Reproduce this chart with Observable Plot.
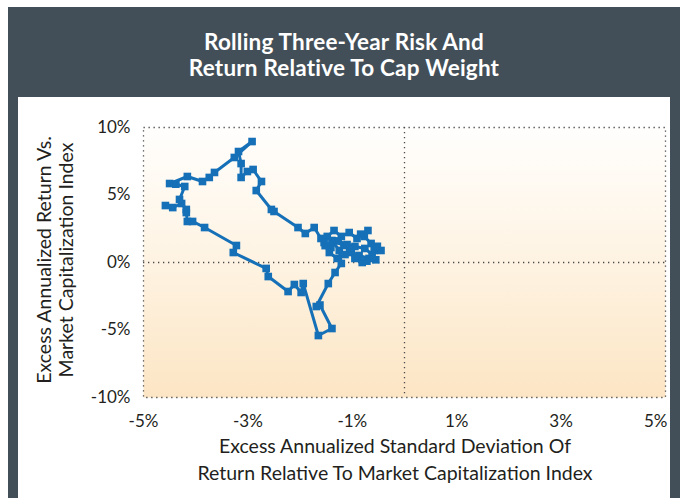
<!DOCTYPE html>
<html>
<head>
<meta charset="utf-8">
<script src="https://cdn.jsdelivr.net/npm/d3@7"></script>
<script src="https://cdn.jsdelivr.net/npm/@observablehq/plot@0.6"></script>
<style>
  html, body { margin: 0; padding: 0; background: #ffffff; }
  #wrap { position: relative; width: 687px; height: 498px; overflow: hidden; }
  #border { position: absolute; left: 8px; top: 7px; width: 672px; height: 520px; background: #434f58; }
  #title { position: absolute; left: 8px; top: 7px; width: 672px; padding-top: 22px; text-align: center;
           color: #ffffff; font-family: Lato, sans-serif; font-weight: 700; font-size: 22.5px; line-height: 26px; letter-spacing: 0.2px; }
  #panel { position: absolute; left: 18px; top: 97px; width: 652px; height: 420px; background: #ffffff; }
  #panel svg { display: block; }
  .axtitle { position: absolute; color: #231f20; font-family: Lato, sans-serif; font-size: 19.5px; text-align: center; white-space: nowrap; }
  #xtitle { left: 95px; width: 600px; top: 432px; line-height: 27px; }
  #ytitle { left: -95px; top: 238px; width: 300px; height: 44px; line-height: 22px; transform: rotate(-90deg); transform-origin: 150px 22px; }
</style>
</head>
<body>
<div id="wrap">
  <div id="border"></div>
  <div id="title">Rolling Three-Year Risk And<br>Return Relative To Cap Weight</div>
  <div id="panel"></div>
  <div id="xtitle" class="axtitle"></div>
  <div id="ytitle" class="axtitle"></div>
</div>
<script>
// Excess annualized standard deviation (%) — x values, in path order
const riskX = [
  -4.58, -4.44, -4.27, -4.18, -4.18, -4.16, -4.06, -3.83, -3.22, -3.28,
  -2.65, -2.61, -2.23, -2.11, -1.98, -1.94, -1.65, -1.39, -1.62, -1.69,
  -1.46, -1.33, -1.21,
  -1.25, -1.39, -1.16, -1.02, -0.87, -0.68, -0.58, -0.45, -0.52, -0.64, -0.77,
  -0.70, -0.84, -0.91, -1.06, -1.21, -1.35, -1.48, -1.54, -1.41, -1.27, -1.10, -0.95,
  -0.76, -0.62, -0.55, -0.72, -0.81, -0.95, -1.05, -1.14, -1.29, -1.44, -1.52, -1.60, -1.73, -1.90,
  -2.04,
  -2.50, -2.55, -2.84, -2.74, -2.90, -3.01, -3.13, -3.13, -3.18, -2.92,
  -3.26, -3.64, -3.74, -3.87, -4.16, -4.50, -4.38, -4.21, -4.31
];
// Excess annualized return (%) — y values, in path order
const returnY = [
  4.22, 4.07, 4.37, 3.93, 3.70, 3.04, 3.04, 2.59, 1.26, 0.74,
  -0.44, -1.04, -2.15, -1.63, -2.22, -1.56, -5.41, -4.89, -3.15, -3.26,
  -1.56, -0.74, -0.07,
  0.89, 1.63, 1.26, 0.74, 0.52, 0.30, 0.89, 0.89, 1.20, 1.41, 1.93,
  2.37, 2.10, 1.78, 2.22, 1.93, 2.37, 1.93, 1.48, 1.11, 1.60, 1.33, 1.19,
  1.04, 0.59, 0.20, 0.10, 0.00, 0.30, 0.85, 0.59, 0.30, 0.74, 1.25, 1.78, 2.59, 2.15,
  2.59,
  3.78, 3.93, 5.33, 6.00, 6.89, 6.74, 6.30, 7.33, 8.22, 8.96,
  7.78, 6.67, 6.30, 6.00, 6.37, 5.85, 5.80, 5.63, 4.67
];
const xTicks = [-5, -3, -1, 1, 3, 5];
const yTicks = [-10, -5, 0, 5, 10];
const xTitleLines = ["Excess Annualized Standard Deviation Of", "Return Relative To Market Capitalization Index"];
const yTitleLines = ["Excess Annualized Return Vs.", "Market Capitalization Index"];

const data = riskX.map((x, i) => ({x, y: returnY[i]}));
const pct = d => `${d}%`;
const ink = "#231f20";
const blue = "#1570b8";
const dotStyle = {stroke: "#4a4a4a", strokeWidth: 1.3, strokeDasharray: "1.3,3.7"};

const chart = Plot.plot({
  width: 652,
  height: 401,
  marginLeft: 125,
  marginRight: 5,
  marginTop: 30,
  marginBottom: 101,
  style: {fontFamily: "Lato, sans-serif", fontSize: "17px", color: ink, background: "transparent"},
  x: {domain: [-5, 5], label: null},
  y: {domain: [-10, 10], label: null},
  marks: [
    Plot.frame({fill: "url(#bgGrad)", stroke: null}),
    Plot.ruleY([0], dotStyle),
    Plot.ruleX([0], dotStyle),
    Plot.frame(dotStyle),
    Plot.axisY({ticks: yTicks, tickFormat: pct, tickSize: 0, tickPadding: 13, label: null, fill: ink}),
    Plot.axisX({ticks: xTicks.slice(0, -1), tickFormat: pct, tickSize: 0, tickPadding: 17, label: null, fill: ink}),
    Plot.axisX({ticks: xTicks.slice(-1), tickFormat: pct, tickSize: 0, tickPadding: 17, label: null, fill: ink, textAnchor: "end", dx: 2}),
    Plot.line(data, {x: "x", y: "y", stroke: blue, strokeWidth: 3, curve: "linear"}),
    Plot.dot(data, {x: "x", y: "y", symbol: "square", r: 4.3, fill: blue, stroke: "none"})
  ]
});

const svg = d3.select(chart);
const defs = svg.insert("defs", ":first-child");
const grad = defs.append("linearGradient").attr("id", "bgGrad")
  .attr("x1", 0).attr("y1", 0).attr("x2", 0).attr("y2", 1);
grad.append("stop").attr("offset", "0%").attr("stop-color", "#fffefd");
grad.append("stop").attr("offset", "50%").attr("stop-color", "#fef3e2");
grad.append("stop").attr("offset", "100%").attr("stop-color", "#fce5c4");

document.getElementById("panel").appendChild(chart);
document.getElementById("xtitle").innerHTML = xTitleLines.join("<br>");
document.getElementById("ytitle").innerHTML = yTitleLines.join("<br>");
</script>
</body>
</html>
